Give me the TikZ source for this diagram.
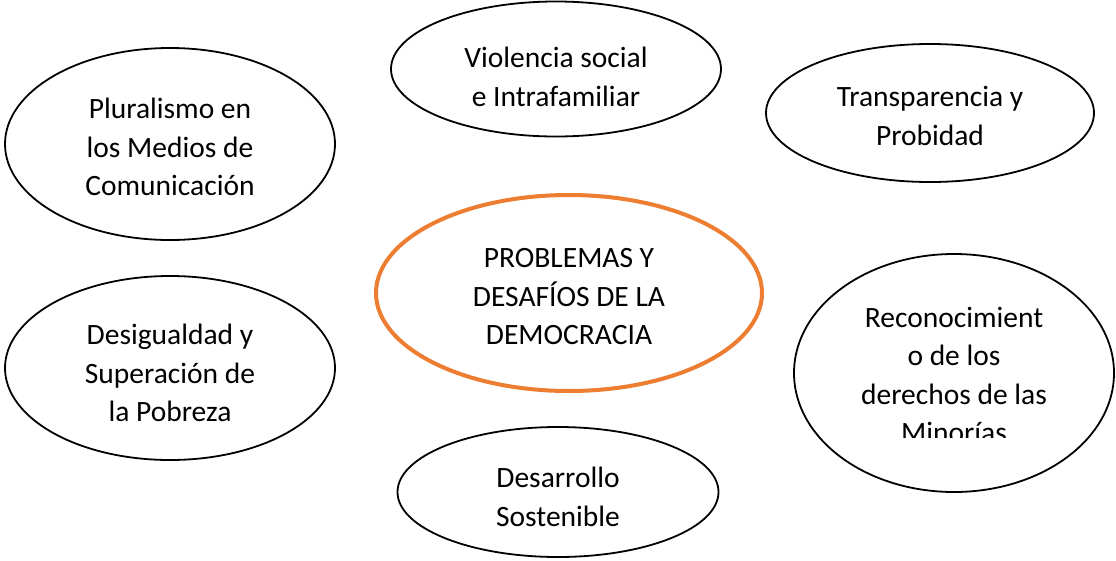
\documentclass[tikz,border=0pt]{standalone}
\usepackage{fontspec}
\setmainfont{Carlito}
\usepackage{tikz}
\usetikzlibrary{shapes.geometric}

\definecolor{accentorange}{HTML}{ED7D31}

\tikzset{
  bubble/.style={draw, ellipse, line width=1.8pt, inner sep=0pt},
  txt/.style={draw=none, align=center, inner sep=0pt, font=\fontsize{29.5}{38.5}\selectfont}
}

\begin{document}
\begin{tikzpicture}[x=1pt,y=-1pt]
\useasboundingbox (0,0) rectangle (1116,560);

\node[bubble, minimum width=330pt, minimum height=192pt] (plural) at (170,144) {};
\node[bubble, minimum width=330pt, minimum height=135pt] (violencia) at (556,69) {};
\node[bubble, minimum width=328pt, minimum height=138pt] (transp) at (930,113) {};
\node[bubble, minimum width=330pt, minimum height=184pt] (desig) at (170,368) {};
\node[bubble, minimum width=320pt, minimum height=238pt] (recon) at (954,373) {};
\node[bubble, minimum width=321pt, minimum height=130pt] (desarrollo) at (558,492) {};

% centro
\node[bubble, draw=accentorange, line width=4pt, minimum width=386pt, minimum height=196pt] (centro) at (569,293) {};

\node[txt] (plural-t) at ([yshift=-3pt]plural) {Pluralismo en\\los Medios de\\Comunicación};
\node[txt] (violencia-t) at ([yshift=-8pt]violencia) {Violencia social\\e Intrafamiliar};
\node[txt] (transp-t) at ([yshift=-3pt]transp) {Transparencia y\\Probidad};
\node[txt] (desig-t) at ([yshift=-5pt]desig) {Desigualdad y\\Superación de\\la Pobreza};
\node[txt] (desarrollo-t) at ([yshift=-5pt]desarrollo) {Desarrollo\\Sostenible};
\node[txt] (centro-t) at ([yshift=-4pt]centro) {PROBLEMAS Y\\DESAFÍOS DE LA\\DEMOCRACIA};

% texto cortado abajo
\begin{scope}
\clip (850,250) rectangle (1070,437);
\node[txt] (recon-t) at ([yshift=-2pt]recon) {Reconocimient\\o de los\\derechos de las\\Minorías};
\end{scope}
\end{tikzpicture}
\end{document}
